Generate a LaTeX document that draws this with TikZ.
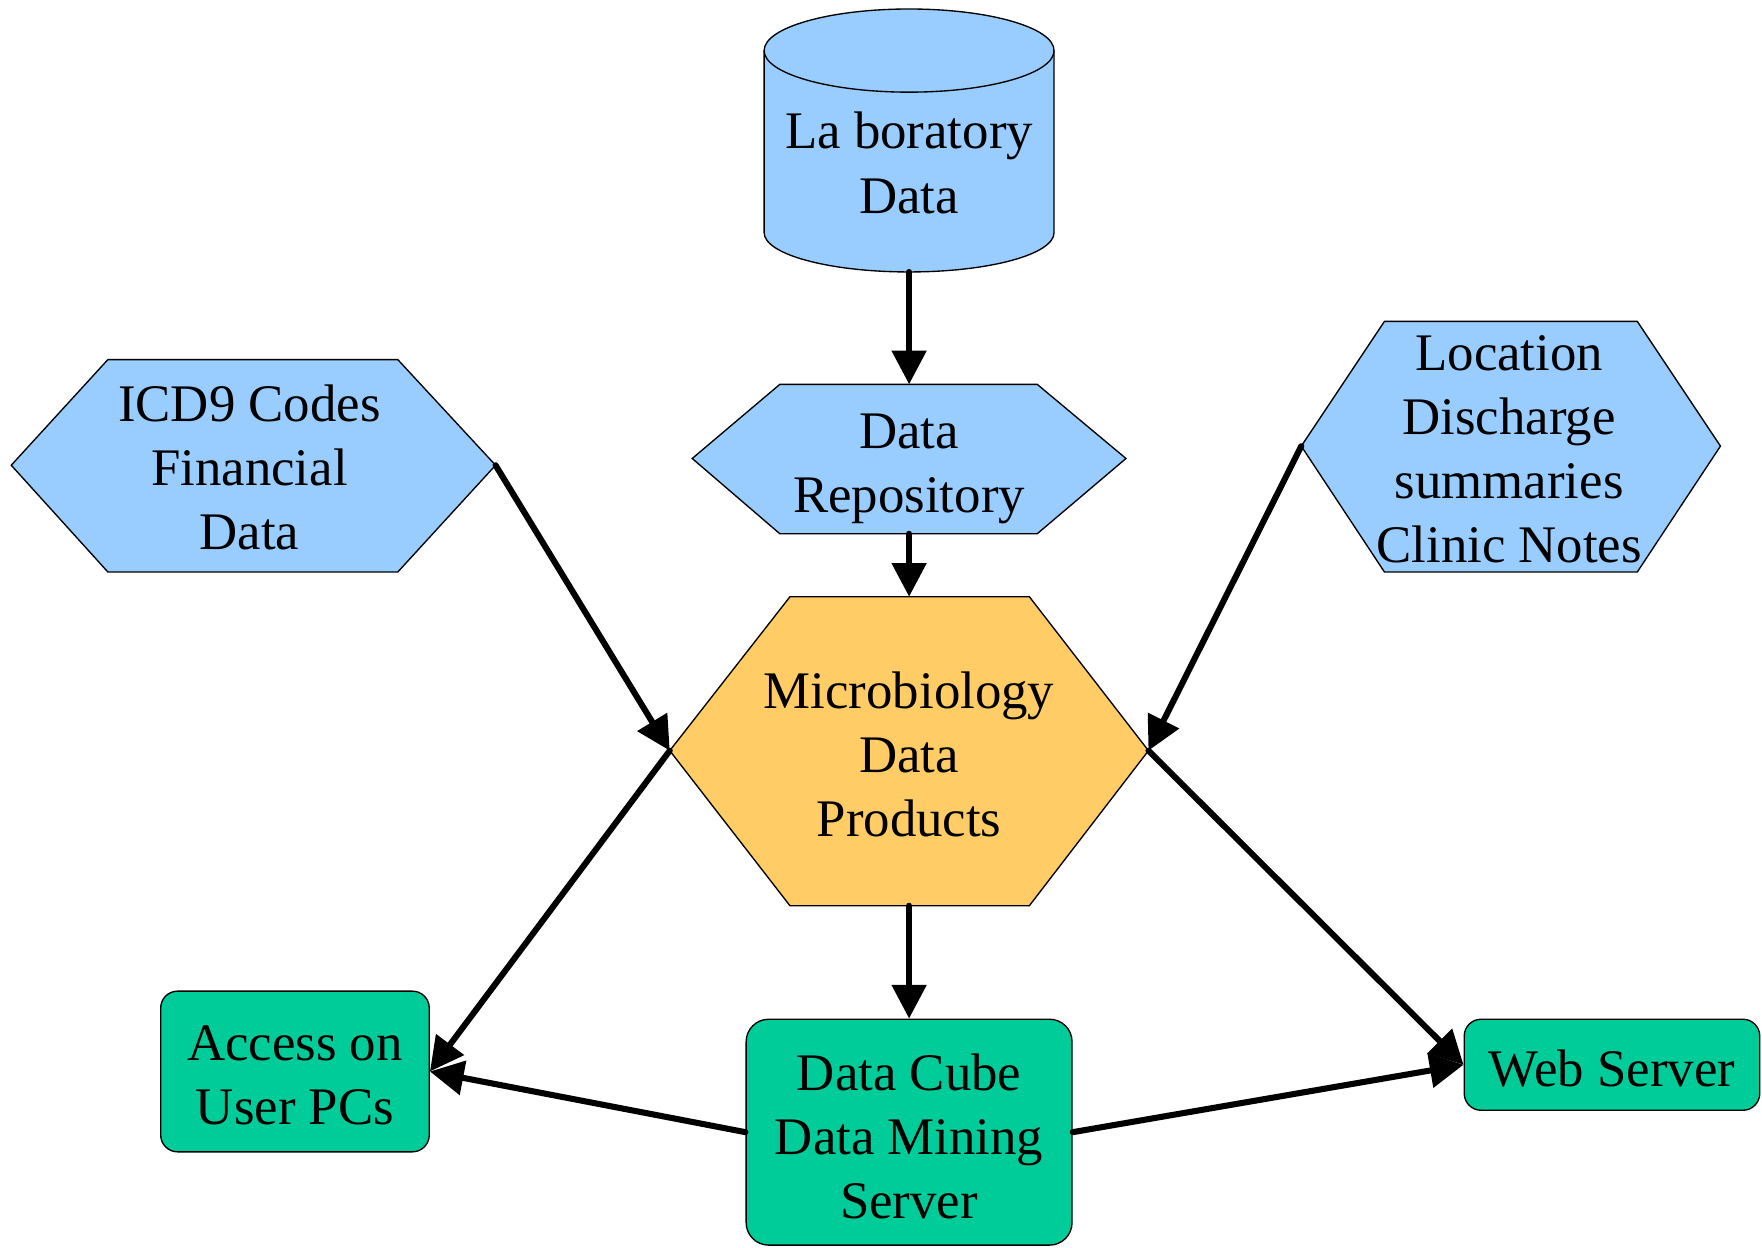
\documentclass[tikz,border=0pt]{standalone}
\usepackage{fontspec}
\setmainfont{Liberation Serif}
\usetikzlibrary{arrows.meta}
\definecolor{bluefill}{HTML}{99CCFF}
\definecolor{orangefill}{HTML}{FFCC66}
\definecolor{greenfill}{HTML}{00CC99}
\tikzset{
  bluehex/.style={draw=black, line width=0.6pt, fill=bluefill, line join=miter},
  orangehex/.style={draw=black, line width=0.6pt, fill=orangefill},
  greenbox/.style={draw=black, line width=0.6pt, fill=greenfill, rounded corners=7.5pt, inner sep=0pt},
  lbl/.style={align=center, inner sep=0pt},
  arr/.style={line width=2.7pt, line cap=round, -{Triangle[length=15pt,width=15pt]}},
}
\begin{document}
\begin{tikzpicture}[x=0.5pt, y=0.5pt, font=\fontsize{23.5pt}{28.5pt}\selectfont]
\useasboundingbox (0,0) rectangle (1568,-1110);
% Laboratory cylinder
\path[bluehex] (680,-45) -- (680,-207) arc[start angle=180, end angle=360, x radius=129, y radius=35]
  -- (938,-45) arc[start angle=0, end angle=180, x radius=129, y radius=37] -- cycle;
\draw[line width=0.6pt] (680,-45) arc[start angle=180, end angle=360, x radius=129, y radius=37];
\node[lbl] (lab) at (809,-145) {La boratory\\Data};
\coordinate (labbot) at (809,-242);
% Data Repository hexagon
\path[bluehex] (616,-408) -- (694,-342) -- (923,-342) -- (1002,-408) -- (923,-475) -- (694,-475) -- cycle;
\node[lbl] (rep) at (809,-417) {Data\\Repository};
\coordinate (reptop) at (809,-342);
\coordinate (repbot) at (809,-475);
% ICD9 hexagon
\path[bluehex] (10,-414) -- (96,-320) -- (354,-320) -- (441,-414) -- (354,-509) -- (96,-509) -- cycle;
\node[lbl] (icd) at (222,-416) {ICD9 Codes\\Financial\\Data};
\coordinate (icdR) at (441,-414);
% Location hexagon
\path[bluehex] (1158,-397) -- (1232,-286) -- (1457,-286) -- (1531,-397) -- (1457,-509) -- (1232,-509) -- cycle;
\node[lbl] (loc) at (1343,-399.5) {Location\\Discharge\\summaries\\Clinic Notes};
\coordinate (locL) at (1158,-397);
% Microbiology hexagon
\path[orangehex] (596,-668) -- (703,-531) -- (916,-531) -- (1022,-668) -- (916,-806) -- (703,-806) -- cycle;
\node[lbl] (mic) at (809,-671) {Microbiology\\Data\\Products};
\coordinate (micL) at (596,-668);
\coordinate (micR) at (1022,-668);
\coordinate (mictop) at (809,-531);
\coordinate (micbot) at (809,-806);
% Green boxes
\node[greenbox, minimum width=119.5pt, minimum height=71.5pt] (acc) at (262.5,-953.5) {};
\node[lbl] (acctext) at (262.5,-956.5) {Access on\\User PCs};
\node[greenbox, minimum width=145pt, minimum height=100.5pt, rounded corners=10pt] (dc) at (809,-1007.5) {};
\node[lbl] (dctext) at (809,-1011.5) {Data Cube\\Data Mining\\Server};
\node[greenbox, minimum width=131.5pt, minimum height=40.5pt] (web) at (1434.5,-947.5) {};
\node[lbl] (webtext) at (1434.5,-950.5) {Web Server};
% Connectors
\draw[arr] (labbot) -- (reptop);
\draw[arr] (repbot) -- (mictop);
\draw[arr] (icdR) -- (micL);
\draw[arr] (locL) -- (micR);
\draw[arr] (micL) -- (acc.east);
\draw[arr] (micbot) -- (dc.north);
\draw[arr] (dc.west) -- (acc.east);
\draw[arr] (dc.east) -- (web.west);
\draw[arr] (micR) -- (web.west);
\end{tikzpicture}
\end{document}
